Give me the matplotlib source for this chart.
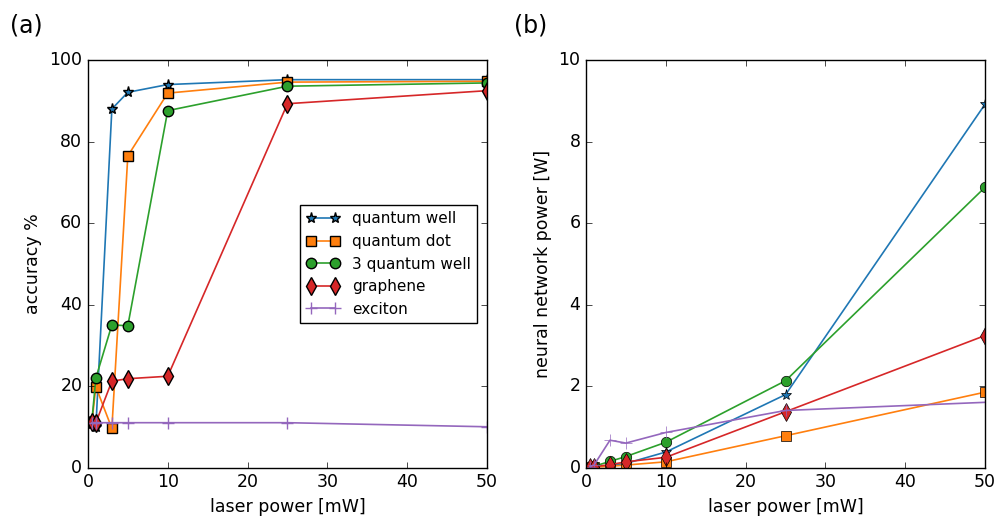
import matplotlib
matplotlib.use("Agg")
import matplotlib.pyplot as plt

# laser power settings [mW]
laser_power = [0.5, 1, 3, 5, 10, 25, 50]

# accuracy [%] for each device
acc_qw = [10.8, 10.0, 88.0, 92.1, 94.0, 95.2, 95.2]
acc_qd = [11.2, 19.8, 9.6, 76.5, 91.9, 94.6, 94.8]
acc_3qw = [11.5, 22.0, 35.0, 34.8, 87.6, 93.6, 94.4]
acc_gr = [11.2, 11.0, 21.2, 21.8, 22.4, 89.3, 92.5]
acc_ex = [11.0, 11.0, 11.0, 11.0, 11.0, 11.0, 10.0]

# neural network power [W]
pw_qw = [0.01, 0.02, 0.05, 0.10, 0.38, 1.79, 8.92]
pw_qd = [0.005, 0.01, 0.03, 0.06, 0.14, 0.78, 1.85]
pw_3qw = [0.01, 0.03, 0.15, 0.27, 0.62, 2.13, 6.88]
pw_gr = [0.01, 0.02, 0.07, 0.14, 0.25, 1.37, 3.24]
pw_ex = [0.02, 0.06, 0.67, 0.60, 0.86, 1.40, 1.60]

labels = ["quantum well", "quantum dot", "3 quantum well", "graphene", "exciton"]
colors = ["#1f77b4", "#ff7f0e", "#2ca02c", "#d62728", "#9467bd"]
markers = ["*", "s", "o", "d", "+"]
msizes = [8, 7.5, 7.5, 9, 9]

plt.style.use("classic")
plt.rcParams["font.family"] = ["DejaVu Sans"]
plt.rcParams["font.size"] = 12.5
plt.rcParams["figure.facecolor"] = "white"
plt.rcParams["savefig.facecolor"] = "white"

fig = plt.figure(figsize=(9.99, 5.25), dpi=100)
ax1 = fig.add_axes([0.088, 0.1095, 0.3995, 0.776])
ax2 = fig.add_axes([0.5866, 0.1095, 0.3995, 0.776])

for ys, lab, c, m, ms in zip([acc_qw, acc_qd, acc_3qw, acc_gr, acc_ex],
                             labels, colors, markers, msizes):
    ax1.plot(laser_power, ys, color=c, marker=m, markersize=ms, label=lab,
             linewidth=1.2, markeredgecolor=c if m == "+" else "k",
             markeredgewidth=1.0 if m != "+" else 1.0)

for ys, c, m, ms in zip([pw_qw, pw_qd, pw_3qw, pw_gr, pw_ex], colors, markers, msizes):
    ax2.plot(laser_power, ys, color=c, marker=m, markersize=ms,
             linewidth=1.2, markeredgecolor=c if m == "+" else "k")

ax1.set_xlim(0, 50)
ax1.set_ylim(0, 100)
ax1.set_xticks([0, 10, 20, 30, 40, 50])
ax1.set_yticks([0, 20, 40, 60, 80, 100])
ax1.set_xlabel("laser power [mW]")
ax1.set_ylabel("accuracy %")

ax2.set_xlim(0, 50)
ax2.set_ylim(0, 10)
ax2.set_xticks([0, 10, 20, 30, 40, 50])
ax2.set_yticks([0, 2, 4, 6, 8, 10])
ax2.set_xlabel("laser power [mW]")
ax2.set_ylabel("neural network power [W]")

leg = ax1.legend(loc="upper left", bbox_to_anchor=(0.531, 0.644), borderaxespad=0,
                 fontsize=11, numpoints=2, fancybox=False, handlelength=2.2)
leg.get_frame().set_linewidth(1.0)

fig.text(0.010, 0.952, "(a)", fontsize=17, va="center")
fig.text(0.515, 0.952, "(b)", fontsize=17, va="center")

fig.savefig("out.png", dpi=100)
